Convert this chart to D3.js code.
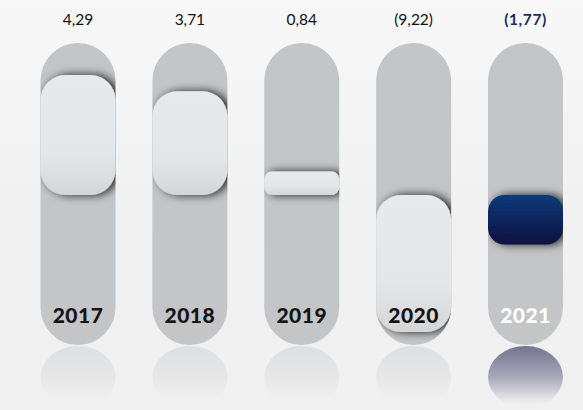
<!DOCTYPE html>
<html>
<head>
<meta charset="utf-8">
<script src="https://cdn.jsdelivr.net/npm/d3@7"></script>
<style>
  html, body { margin: 0; padding: 0; background: #f3f3f3; }
  svg { display: block; }
</style>
</head>
<body>
<div id="chart"></div>
<script>
// Annual variation by year (%)
const years = ["2017", "2018", "2019", "2020", "2021"];
const values = [4.29, 3.71, 0.84, -9.22, -1.77];
const highlightYear = "2021";

const W = 583, H = 410;
const pillTop = 43, pillBottom = 345, pillW = 75;
const reflectH = 62;

// Portuguese-style number format: decimal comma, negatives in parentheses
const locale = d3.formatLocale({ decimal: ",", thousands: ".", grouping: [3], currency: ["R$", ""] });
const fmt = locale.format(".2f");
const label = v => v < 0 ? "(" + fmt(-v) + ")" : fmt(v);

const x = d3.scalePoint().domain(years).range([78, 525.5]);
const y = d3.scaleLinear().domain([-4.9, 4.9]).range([332, 58]).clamp(true);

const svg = d3.select("#chart").append("svg")
  .attr("width", W).attr("height", H);
const defs = svg.append("defs");

// background
const bg = defs.append("linearGradient").attr("id", "bg")
  .attr("x1", 0).attr("y1", 0).attr("x2", 0).attr("y2", 1);
bg.append("stop").attr("offset", 0).attr("stop-color", "#f8f8f8");
bg.append("stop").attr("offset", 0.5).attr("stop-color", "#f1f1f1");
bg.append("stop").attr("offset", 1).attr("stop-color", "#f0f0f0");
svg.append("rect").attr("width", W).attr("height", H).attr("fill", "url(#bg)");

// bar fills
const gLight = defs.append("linearGradient").attr("id", "barLight")
  .attr("x1", 0).attr("y1", 0).attr("x2", 0).attr("y2", 1);
gLight.append("stop").attr("offset", 0).attr("stop-color", "#e8e9ea");
gLight.append("stop").attr("offset", 0.65).attr("stop-color", "#e5e6e7");
gLight.append("stop").attr("offset", 1).attr("stop-color", "#d4d5d6");

const gDark = defs.append("linearGradient").attr("id", "barDark")
  .attr("x1", 0).attr("y1", 0).attr("x2", 0).attr("y2", 1);
gDark.append("stop").attr("offset", 0).attr("stop-color", "#0a3a7a");
gDark.append("stop").attr("offset", 1).attr("stop-color", "#08103f");

// reflections
const rLight = defs.append("linearGradient").attr("id", "refLight")
  .attr("x1", 0).attr("y1", 0).attr("x2", 0).attr("y2", 1);
rLight.append("stop").attr("offset", 0).attr("stop-color", "#dedfe0");
rLight.append("stop").attr("offset", 0.6).attr("stop-color", "#e9e9ea");
rLight.append("stop").attr("offset", 1).attr("stop-color", "#f0f0f0").attr("stop-opacity", 0);

const rDark = defs.append("linearGradient").attr("id", "refDark")
  .attr("x1", 0).attr("y1", 0).attr("x2", 0).attr("y2", 1);
rDark.append("stop").attr("offset", 0).attr("stop-color", "#76748e");
rDark.append("stop").attr("offset", 0.5).attr("stop-color", "#a8a7b8");
rDark.append("stop").attr("offset", 0.85).attr("stop-color", "#e4e4e8");
rDark.append("stop").attr("offset", 1).attr("stop-color", "#f0f0f0").attr("stop-opacity", 0);

// soft shadow under the bars
const shadow = defs.append("filter").attr("id", "shadow")
  .attr("x", "-50%").attr("y", "-50%").attr("width", "200%").attr("height", "200%");
shadow.append("feDropShadow")
  .attr("dx", 4).attr("dy", 0).attr("stdDeviation", 5)
  .attr("flood-color", "#000").attr("flood-opacity", 0.85);

const data = years.map((yr, i) => ({ year: yr, value: values[i] }));

const cols = svg.selectAll("g.col").data(data).join("g")
  .attr("class", "col")
  .attr("transform", d => `translate(${x(d.year) - pillW / 2},0)`);

// clip each column to its pill shape
data.forEach((d, i) => {
  defs.append("clipPath").attr("id", "clip" + i)
    .append("rect")
    .attr("x", 0).attr("y", pillTop)
    .attr("width", pillW).attr("height", pillBottom - pillTop)
    .attr("rx", pillW / 2);
});

// reflection under the pill
cols.append("rect")
  .attr("x", 0).attr("y", pillBottom + 1)
  .attr("width", pillW).attr("height", reflectH)
  .attr("rx", pillW / 2)
  .attr("fill", d => d.year === highlightYear ? "url(#refDark)" : "url(#refLight)");

// pill track
cols.append("rect")
  .attr("x", 0).attr("y", pillTop)
  .attr("width", pillW).attr("height", pillBottom - pillTop)
  .attr("rx", pillW / 2)
  .attr("fill", "#c4c5c7");

// value bar, clipped to the pill
cols.append("g")
  .attr("clip-path", (d, i) => `url(#clip${i})`)
  .append("rect")
  .attr("x", 0)
  .attr("y", d => Math.min(y(d.value), y(0)))
  .attr("width", pillW)
  .attr("height", d => Math.abs(y(d.value) - y(0)))
  .attr("rx", d => Math.min(25, Math.abs(y(d.value) - y(0)) / 3))
  .attr("fill", d => d.year === highlightYear ? "url(#barDark)" : "url(#barLight)")
  .attr("filter", "url(#shadow)");

// year labels
cols.append("text")
  .attr("x", pillW / 2).attr("y", 323)
  .attr("text-anchor", "middle")
  .attr("font-family", "Lato, 'Open Sans', sans-serif")
  .attr("font-weight", 900)
  .attr("font-size", 21)
  .attr("letter-spacing", 0.5)
  .attr("fill", d => d.year === highlightYear ? "#ffffff" : "#141414")
  .text(d => d.year);

// value labels
cols.append("text")
  .attr("x", pillW / 2).attr("y", 25)
  .attr("text-anchor", "middle")
  .attr("font-family", "Lato, 'Open Sans', sans-serif")
  .attr("font-weight", d => d.year === highlightYear ? 700 : 400)
  .attr("font-size", 15.5)
  .attr("letter-spacing", d => d.year === highlightYear ? 0.6 : 0)
  .attr("fill", d => d.year === highlightYear ? "#1c2b5e" : "#111111")
  .text(d => label(d.value));
</script>
</body>
</html>
